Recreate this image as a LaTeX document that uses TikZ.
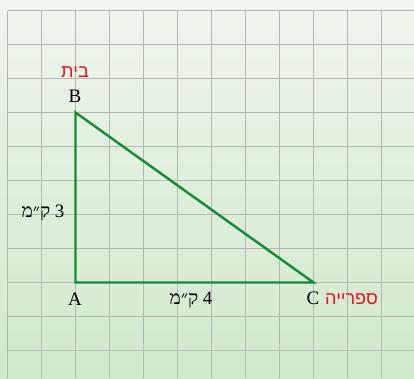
\documentclass[tikz,border=0pt]{standalone}
\usepackage{fontspec}
\setmainfont{Liberation Serif}
\newfontfamily\hebsans[Script=Hebrew]{Liberation Sans}
\newfontfamily\hebserif[Script=Hebrew]{Liberation Serif}
\TeXXeTstate=1
\usepackage{tikz}
\usetikzlibrary{positioning}
\definecolor{paper}{HTML}{EEF6EC}
\definecolor{paperdark}{HTML}{D2E7CD}
\definecolor{gridgray}{HTML}{B4B8B2}
\definecolor{edgegreen}{HTML}{168A36}
\definecolor{placered}{HTML}{E8141E}

\begin{document}
\begin{tikzpicture}[
  x=1pt, y=-1pt,
  gridline/.style={draw=gridgray, line width=1.1pt},
  side/.style={draw=edgegreen, line width=2.4pt, line join=miter},
  vertex/.style={font=\fontsize{19}{22}\selectfont, inner sep=0pt},
  place/.style={text=placered, font=\hebsans\fontsize{18}{22}\selectfont, inner sep=0pt},
  length/.style={font=\hebserif\fontsize{19}{22}\selectfont, inner sep=0pt}
]
\useasboundingbox (0,0) rectangle (414,378);
\shade[top color=paper, bottom color=paperdark] (0,0) rectangle (414,378);
% grid
\foreach \x in {7.5,41.5,...,381.5}
  \draw[gridline] (\x,10.5) -- (\x,378);
\foreach \y in {10.5,44.5,...,350.5}
  \draw[gridline] (7.5,\y) -- (414,\y);
% triangle
\coordinate (A) at (75.5,282.5);
\coordinate (B) at (75.5,112.5);
\coordinate (C) at (313.5,282.5);
\draw[side] (A) -- (B) -- (C) -- cycle;
% labels
\node[vertex] (labA) at (75,299) {A};
\node[vertex] (labB) at (75,96) {B};
\node[vertex] (labC) at (313,298) {C};
\node[place] (home) at (75,72) {\beginR בית\endR};
\node[place, anchor=west] (library) at (325,299) {\beginR ספרייה\endR};
\node[length] (ab) at (43,213) {\beginR 3 ק״מ\endR};
\node[length] (ac) at (191,300) {\beginR 4 ק״מ\endR};
\end{tikzpicture}
\end{document}
